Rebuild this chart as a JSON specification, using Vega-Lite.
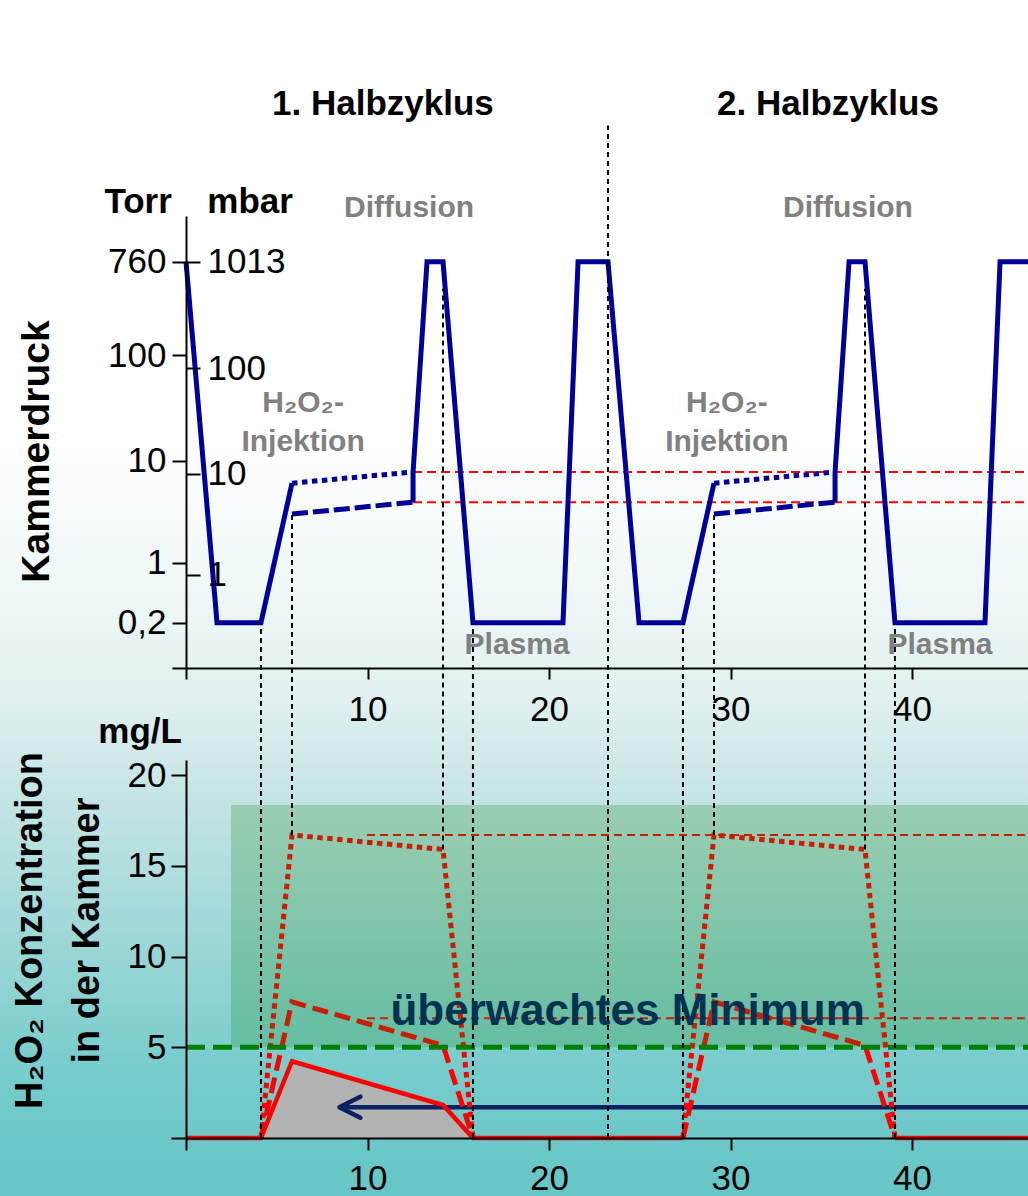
{
  "$schema": "https://vega.github.io/schema/vega-lite/v6.json",
  "width": 1028,
  "height": 1196,
  "padding": 0,
  "autosize": {"type": "none"},
  "datasets": {
    "druck": [
      {"serie": "Druck", "abschnitt": 1, "i": 1, "t": 0, "p": 760},
      {"serie": "Druck", "abschnitt": 1, "i": 2, "t": 1.71, "p": 0.2},
      {"serie": "Druck", "abschnitt": 1, "i": 3, "t": 4.13, "p": 0.2},
      {"serie": "Druck", "abschnitt": 1, "i": 4, "t": 5.84, "p": 6.1},
      {"serie": "Druck", "abschnitt": 2, "i": 5, "t": 12.51, "p": 4.0},
      {"serie": "Druck", "abschnitt": 2, "i": 6, "t": 12.51, "p": 7.8},
      {"serie": "Druck", "abschnitt": 2, "i": 7, "t": 13.28, "p": 760},
      {"serie": "Druck", "abschnitt": 2, "i": 8, "t": 14.16, "p": 760},
      {"serie": "Druck", "abschnitt": 2, "i": 9, "t": 15.81, "p": 0.2},
      {"serie": "Druck", "abschnitt": 2, "i": 10, "t": 20.77, "p": 0.2},
      {"serie": "Druck", "abschnitt": 2, "i": 11, "t": 21.6, "p": 760},
      {"serie": "Druck", "abschnitt": 2, "i": 12, "t": 23.25, "p": 760},
      {"serie": "Druck", "abschnitt": 2, "i": 13, "t": 24.96, "p": 0.2},
      {"serie": "Druck", "abschnitt": 2, "i": 14, "t": 27.38, "p": 0.2},
      {"serie": "Druck", "abschnitt": 2, "i": 15, "t": 29.09, "p": 6.1},
      {"serie": "Druck", "abschnitt": 3, "i": 16, "t": 35.76, "p": 4.0},
      {"serie": "Druck", "abschnitt": 3, "i": 17, "t": 35.76, "p": 7.8},
      {"serie": "Druck", "abschnitt": 3, "i": 18, "t": 36.53, "p": 760},
      {"serie": "Druck", "abschnitt": 3, "i": 19, "t": 37.41, "p": 760},
      {"serie": "Druck", "abschnitt": 3, "i": 20, "t": 39.06, "p": 0.2},
      {"serie": "Druck", "abschnitt": 3, "i": 21, "t": 44.02, "p": 0.2},
      {"serie": "Druck", "abschnitt": 3, "i": 22, "t": 44.85, "p": 760},
      {"serie": "Druck", "abschnitt": 3, "i": 23, "t": 46.6, "p": 760},
      {"serie": "hoch", "abschnitt": 4, "i": 24, "t": 5.84, "p": 6.1},
      {"serie": "hoch", "abschnitt": 4, "i": 25, "t": 12.51, "p": 7.8},
      {"serie": "hoch", "abschnitt": 5, "i": 26, "t": 29.09, "p": 6.1},
      {"serie": "hoch", "abschnitt": 5, "i": 27, "t": 35.76, "p": 7.8},
      {"serie": "niedrig", "abschnitt": 6, "i": 28, "t": 5.84, "p": 3.07},
      {"serie": "niedrig", "abschnitt": 6, "i": 29, "t": 12.51, "p": 4.0},
      {"serie": "niedrig", "abschnitt": 7, "i": 30, "t": 29.09, "p": 3.07},
      {"serie": "niedrig", "abschnitt": 7, "i": 31, "t": 35.76, "p": 4.0}
    ],
    "konz": [
      {"serie": "niedrig", "abschnitt": 1, "i": 1, "t": 0, "c": 0},
      {"serie": "niedrig", "abschnitt": 1, "i": 2, "t": 4.13, "c": 0},
      {"serie": "niedrig", "abschnitt": 1, "i": 3, "t": 5.84, "c": 4.23},
      {"serie": "niedrig", "abschnitt": 1, "i": 4, "t": 14.16, "c": 1.82},
      {"serie": "niedrig", "abschnitt": 1, "i": 5, "t": 15.81, "c": 0},
      {"serie": "niedrig", "abschnitt": 1, "i": 6, "t": 27.38, "c": 0},
      {"serie": "niedrig", "abschnitt": 2, "i": 7, "t": 39.06, "c": 0},
      {"serie": "niedrig", "abschnitt": 2, "i": 8, "t": 46.6, "c": 0},
      {"serie": "mittel", "abschnitt": 3, "i": 9, "t": 4.13, "c": 0},
      {"serie": "mittel", "abschnitt": 3, "i": 10, "t": 5.84, "c": 7.5},
      {"serie": "mittel", "abschnitt": 3, "i": 11, "t": 14.16, "c": 5.1},
      {"serie": "mittel", "abschnitt": 3, "i": 12, "t": 15.81, "c": 0},
      {"serie": "mittel", "abschnitt": 4, "i": 13, "t": 27.38, "c": 0},
      {"serie": "mittel", "abschnitt": 4, "i": 14, "t": 29.09, "c": 7.5},
      {"serie": "mittel", "abschnitt": 4, "i": 15, "t": 37.41, "c": 5.1},
      {"serie": "mittel", "abschnitt": 4, "i": 16, "t": 39.06, "c": 0},
      {"serie": "hoch", "abschnitt": 5, "i": 17, "t": 4.13, "c": 0},
      {"serie": "hoch", "abschnitt": 5, "i": 18, "t": 5.84, "c": 16.7},
      {"serie": "hoch", "abschnitt": 5, "i": 19, "t": 14.16, "c": 15.9},
      {"serie": "hoch", "abschnitt": 5, "i": 20, "t": 15.81, "c": 0},
      {"serie": "hoch", "abschnitt": 6, "i": 21, "t": 27.38, "c": 0},
      {"serie": "hoch", "abschnitt": 6, "i": 22, "t": 29.09, "c": 16.7},
      {"serie": "hoch", "abschnitt": 6, "i": 23, "t": 37.41, "c": 15.9},
      {"serie": "hoch", "abschnitt": 6, "i": 24, "t": 39.06, "c": 0}
    ],
    "grenzen": [
      {"t": 4.13, "von": 0, "bis": 28.37},
      {"t": 5.84, "von": 16.7, "bis": 34.38},
      {"t": 14.16, "von": 15.9, "bis": 46.8},
      {"t": 15.81, "von": 0, "bis": 28.37},
      {"t": 23.25, "von": 0, "bis": 55.8},
      {"t": 27.38, "von": 0, "bis": 28.37},
      {"t": 29.09, "von": 16.7, "bis": 34.38},
      {"t": 37.41, "von": 15.9, "bis": 46.8},
      {"t": 39.06, "von": 0, "bis": 28.37}
    ]
  },
  "layer": [
    {
      "data": {"values": [{"bg": 1}]},
      "mark": {
        "type": "rect",
        "color": {
          "gradient": "linear",
          "x1": 0, "y1": 0, "x2": 0, "y2": 1,
          "stops": [
            {"offset": 0, "color": "#FFFFFF"},
            {"offset": 0.36, "color": "#FFFFFF"},
            {"offset": 0.5, "color": "#EEF7F7"},
            {"offset": 0.585, "color": "#E1F0F0"},
            {"offset": 0.635, "color": "#CFE8E8"},
            {"offset": 0.67, "color": "#C4E4E4"},
            {"offset": 0.78, "color": "#A0D8D8"},
            {"offset": 0.886, "color": "#7ACDCD"},
            {"offset": 0.953, "color": "#6CC8C8"},
            {"offset": 1, "color": "#68C6C6"}
          ]
        }
      },
      "encoding": {}
    },
    {
      "data": {"values": [
        {"p": 7.8, "von": 12.51, "bis": 46.6},
        {"p": 4.0, "von": 12.51, "bis": 46.6}
      ]},
      "mark": {"type": "rule", "color": "#FF0000", "strokeWidth": 2, "strokeDash": [9, 5]},
      "encoding": {
        "x": {"field": "von", "type": "quantitative", "scale": {"domain": [0, 46.39], "range": [186, 1028], "nice": false, "zero": false}, "axis": null},
        "x2": {"field": "bis"},
        "y": {
          "field": "p", "type": "quantitative",
          "scale": {"type": "symlog", "constant": 0.1, "domain": [0.012, 2050], "range": [668, 216], "nice": false, "zero": false},
          "axis": {
            "orient": "right", "offset": -842, "domain": false, "title": null, "zindex": 2,
            "values": [0.75, 7.5, 75, 760],
            "labelExpr": "datum.value > 500 ? '1013' : datum.value > 50 ? '100' : datum.value > 5 ? '10' : '1'",
            "tickSize": 14, "labelPadding": 7, "labelAlign": "left", "labelBaseline": "middle"
          }
        }
      }
    },
    {
      "layer": [
        {
          "data": {"name": "druck"},
          "transform": [{"filter": "datum.serie == 'Druck'"}],
          "mark": {"type": "line", "color": "#000099", "strokeWidth": 5},
          "encoding": {
            "x": {
              "field": "t", "type": "quantitative",
              "scale": {"domain": [0, 46.39], "range": [186, 1028], "nice": false, "zero": false},
              "axis": {"orient": "bottom", "offset": -528, "zindex": 2, "values": [0, 10, 20, 30, 40], "labelExpr": "datum.value == 0 ? '' : datum.label", "tickSize": 11, "labelPadding": 13, "title": null}
            },
            "y": {
              "field": "p", "type": "quantitative",
              "scale": {"type": "symlog", "constant": 0.1, "domain": [0.012, 2050], "range": [668, 216], "nice": false, "zero": false},
              "axis": {
                "orient": "left", "offset": -186, "zindex": 2,
                "values": [0.012, 0.2, 1, 10, 100, 760],
                "labelExpr": "datum.value < 0.1 ? '' : datum.value < 0.5 ? '0,2' : format(datum.value, 'd')",
                "tickSize": 14, "labelPadding": 6,
                "title": "Kammerdruck", "titleX": -138, "titleY": 451, "titleAngle": 270,
                "titleAlign": "center", "titleBaseline": "alphabetic",
                "titleFont": "Liberation Sans", "titleFontSize": 39, "titleFontWeight": "bold", "titleColor": "#000000"
              }
            },
            "detail": {"field": "abschnitt"},
            "order": {"field": "i"}
          }
        },
        {
          "data": {"name": "druck"},
          "transform": [{"filter": "datum.serie == 'hoch'"}],
          "mark": {"type": "line", "color": "#000099", "strokeWidth": 5, "strokeDash": [5.5, 4.5]},
          "encoding": {
            "x": {"field": "t", "type": "quantitative"},
            "y": {"field": "p", "type": "quantitative"},
            "detail": {"field": "abschnitt"},
            "order": {"field": "i"}
          }
        },
        {
          "data": {"name": "druck"},
          "transform": [{"filter": "datum.serie == 'niedrig'"}],
          "mark": {"type": "line", "color": "#000099", "strokeWidth": 5, "strokeDash": [16, 5]},
          "encoding": {
            "x": {"field": "t", "type": "quantitative"},
            "y": {"field": "p", "type": "quantitative"},
            "detail": {"field": "abschnitt"},
            "order": {"field": "i"}
          }
        },
        {
          "data": {"values": [
            {"text": "1. Halbzyklus", "t": 10.85, "p": 18388},
            {"text": "2. Halbzyklus", "t": 35.37, "p": 18388},
            {"text": "Torr", "t": -2.64, "p": 2189},
            {"text": "mbar", "t": 3.53, "p": 2189}
          ]},
          "mark": {"type": "text", "font": "Liberation Sans", "fontSize": 35, "fontWeight": "bold", "color": "#000000", "align": "center", "baseline": "alphabetic"},
          "encoding": {
            "x": {"field": "t", "type": "quantitative"},
            "y": {"field": "p", "type": "quantitative"},
            "text": {"field": "text"}
          }
        },
        {
          "data": {"values": [
            {"text": "Diffusion", "t": 12.29, "p": 2007},
            {"text": "Diffusion", "t": 36.47, "p": 2007},
            {"text": "H\u2082O\u2082-", "t": 6.45, "p": 28.96},
            {"text": "H\u2082O\u2082-", "t": 29.8, "p": 28.96},
            {"text": "Injektion", "t": 6.45, "p": 12.36},
            {"text": "Injektion", "t": 29.8, "p": 12.36},
            {"text": "Plasma", "t": 18.24, "p": 0.0518},
            {"text": "Plasma", "t": 41.54, "p": 0.0518}
          ]},
          "mark": {"type": "text", "font": "Liberation Sans", "fontSize": 30, "fontWeight": "bold", "color": "#808080", "align": "center", "baseline": "alphabetic"},
          "encoding": {
            "x": {"field": "t", "type": "quantitative"},
            "y": {"field": "p", "type": "quantitative"},
            "text": {"field": "text"}
          }
        }
      ]
    },
    {
      "layer": [
        {
          "data": {"name": "konz"},
          "transform": [{"filter": "datum.serie == 'niedrig'"}],
          "mark": {"type": "area", "color": "#B3B3B3", "opacity": 1},
          "encoding": {
            "x": {
              "field": "t", "type": "quantitative",
              "scale": {"domain": [0, 46.39], "range": [186, 1028], "nice": false, "zero": false},
              "axis": {"orient": "bottom", "offset": -58, "zindex": 2, "values": [0, 10, 20, 30, 40], "labelExpr": "datum.value == 0 ? '' : datum.label", "tickSize": 12, "labelPadding": 11, "title": null}
            },
            "y": {
              "field": "c", "type": "quantitative",
              "scale": {"domain": [0, 20.83], "range": [1138, 760], "nice": false, "zero": false},
              "axis": {
                "orient": "left", "offset": -186, "zindex": 2,
                "values": [0, 5, 10, 15, 20],
                "labelExpr": "datum.value == 0 ? '' : format(datum.value, 'd')",
                "tickSize": 15, "labelPadding": 5,
                "title": ["H\u2082O\u2082 Konzentration", "in der Kammer"],
                "titleX": -145, "titleY": 930, "titleAngle": 270, "titleLineHeight": 57,
                "titleAlign": "center", "titleBaseline": "alphabetic",
                "titleFont": "Liberation Sans", "titleFontSize": 38, "titleFontWeight": "bold", "titleColor": "#000000"
              }
            },
            "detail": {"field": "abschnitt"},
            "order": {"field": "i"}
          }
        },
        {
          "data": {"values": [{"c": 1.7, "von": 8.45, "bis": 46.6}]},
          "mark": {"type": "rule", "color": "#0B2161", "strokeWidth": 4.5},
          "encoding": {
            "x": {"field": "von", "type": "quantitative"},
            "x2": {"field": "bis"},
            "y": {"field": "c", "type": "quantitative"}
          }
        },
        {
          "data": {"values": [{"c": 1.7, "t": 8.45}]},
          "mark": {"type": "point", "shape": "M2,-1L0,0L2,1", "size": 441, "filled": false, "stroke": "#0B2161", "strokeWidth": 4.5, "strokeCap": "round", "strokeJoin": "round", "opacity": 1},
          "encoding": {
            "x": {"field": "t", "type": "quantitative"},
            "y": {"field": "c", "type": "quantitative"}
          }
        },
        {
          "data": {"name": "konz"},
          "transform": [{"filter": "datum.serie == 'niedrig'"}],
          "mark": {"type": "line", "color": "#FF0000", "strokeWidth": 4.5},
          "encoding": {
            "x": {"field": "t", "type": "quantitative"},
            "y": {"field": "c", "type": "quantitative"},
            "detail": {"field": "abschnitt"},
            "order": {"field": "i"}
          }
        },
        {
          "data": {"name": "konz"},
          "transform": [{"filter": "datum.serie == 'mittel'"}],
          "mark": {"type": "line", "color": "#FF0000", "strokeWidth": 5, "strokeDash": [16, 7]},
          "encoding": {
            "x": {"field": "t", "type": "quantitative"},
            "y": {"field": "c", "type": "quantitative"},
            "detail": {"field": "abschnitt"},
            "order": {"field": "i"}
          }
        },
        {
          "data": {"name": "konz"},
          "transform": [{"filter": "datum.serie == 'hoch'"}],
          "mark": {"type": "line", "color": "#FF0000", "strokeWidth": 5, "strokeDash": [5.5, 4.5]},
          "encoding": {
            "x": {"field": "t", "type": "quantitative"},
            "y": {"field": "c", "type": "quantitative"},
            "detail": {"field": "abschnitt"},
            "order": {"field": "i"}
          }
        },
        {
          "data": {"values": [
            {"c": 16.7, "von": 9.97, "bis": 46.6},
            {"c": 6.6, "von": 9.97, "bis": 46.6}
          ]},
          "mark": {"type": "rule", "color": "#FF0000", "strokeWidth": 2, "strokeDash": [8, 5]},
          "encoding": {
            "x": {"field": "von", "type": "quantitative"},
            "x2": {"field": "bis"},
            "y": {"field": "c", "type": "quantitative"}
          }
        },
        {
          "data": {"values": [{"von": 2.48, "bis": 46.6, "unten": 5, "oben": 18.35}]},
          "mark": {"type": "rect", "color": "#138510", "opacity": 0.23},
          "encoding": {
            "x": {"field": "von", "type": "quantitative"},
            "x2": {"field": "bis"},
            "y": {"field": "unten", "type": "quantitative"},
            "y2": {"field": "oben"}
          }
        },
        {
          "data": {"values": [{"c": 5, "von": 0, "bis": 46.6}]},
          "mark": {"type": "rule", "color": "#008000", "strokeWidth": 5, "strokeDash": [19, 8]},
          "encoding": {
            "x": {"field": "von", "type": "quantitative"},
            "x2": {"field": "bis"},
            "y": {"field": "c", "type": "quantitative"}
          }
        },
        {
          "data": {"name": "grenzen"},
          "mark": {"type": "rule", "color": "#000000", "strokeWidth": 2, "strokeDash": [5, 4]},
          "encoding": {
            "x": {"field": "t", "type": "quantitative"},
            "y": {"field": "von", "type": "quantitative"},
            "y2": {"field": "bis"}
          }
        },
        {
          "data": {"values": [{"text": "\u00fcberwachtes Minimum", "t": 24.33, "c": 6.23}]},
          "mark": {"type": "text", "font": "Liberation Sans", "fontSize": 44, "fontWeight": "bold", "color": "#003352", "align": "center", "baseline": "alphabetic"},
          "encoding": {
            "x": {"field": "t", "type": "quantitative"},
            "y": {"field": "c", "type": "quantitative"},
            "text": {"field": "text"}
          }
        },
        {
          "data": {"values": [{"text": "mg/L", "t": -2.53, "c": 21.76}]},
          "mark": {"type": "text", "font": "Liberation Sans", "fontSize": 35, "fontWeight": "bold", "color": "#000000", "align": "center", "baseline": "alphabetic"},
          "encoding": {
            "x": {"field": "t", "type": "quantitative"},
            "y": {"field": "c", "type": "quantitative"},
            "text": {"field": "text"}
          }
        }
      ]
    }
  ],
  "resolve": {
    "scale": {"x": "independent", "y": "independent"},
    "axis": {"x": "independent", "y": "independent"}
  },
  "config": {
    "view": {"stroke": null},
    "font": "Liberation Sans",
    "axis": {
      "domainColor": "#000000", "domainWidth": 2,
      "tickColor": "#000000", "tickWidth": 2,
      "labelColor": "#000000", "labelFont": "Liberation Sans", "labelFontSize": 35,
      "grid": false, "labelOverlap": false, "labelFlush": false
    }
  }
}
